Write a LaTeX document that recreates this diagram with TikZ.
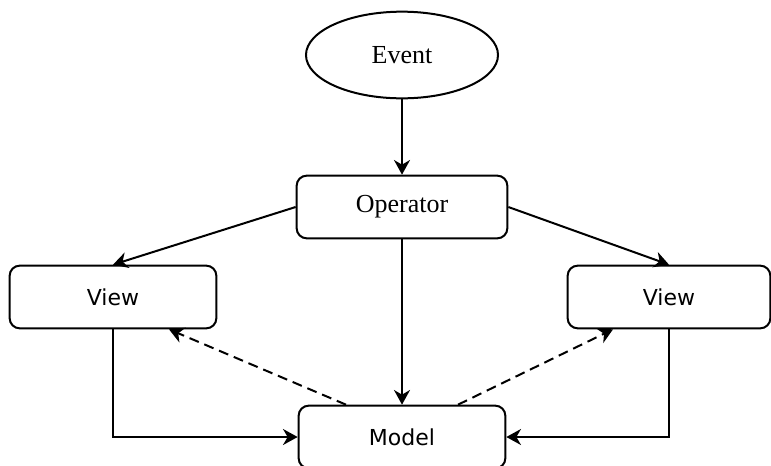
\documentclass[tikz,border=0pt]{standalone}
\usepackage{fontspec}
\setmainfont{Liberation Serif}
\newfontfamily\viewfont{DejaVu Sans}
\usetikzlibrary{arrows.meta,shapes.geometric}

\begin{document}
\begin{tikzpicture}[x=0.75pt,y=-0.75pt,
    line width=1.5pt,
    >={Stealth[length=11pt,width=12pt,inset=3.5pt]},
    box/.style={draw,rectangle,rounded corners=7.5pt,minimum width=155pt,minimum height=47pt,inner sep=0pt},
    serifbox/.style={box,font=\fontsize{19.5}{22}\selectfont},
    sansbox/.style={box,font=\viewfont\fontsize{16.5}{19}\selectfont},
    flow/.style={->},
    notify/.style={->,dash pattern=on 7.5pt off 4.5pt}]
  \useasboundingbox (0,0) rectangle (771,465);
  \clip (0,0) rectangle (771,465);

  \node[draw,ellipse,minimum width=144pt,minimum height=65pt,inner sep=0pt,
        font=\fontsize{19.5}{22}\selectfont] (event) at (402,55) {Event};
  \node[serifbox,minimum width=158pt] (oper) at (402,207) {Operator};
  \node[sansbox] (viewL) at (113,297) {View};
  \node[sansbox,minimum width=152pt] (viewR) at (669,297) {View};
  \node[sansbox] (model) at (402,437) {Model};

  \draw[flow] (event) -- (oper);
  \draw[flow] (oper.west) -- (viewL.north);
  \draw[flow] (oper.east) -- (viewR.north);
  \draw[flow] (oper) -- (model);
  \draw[flow] (viewL.south) |- (model.west);
  \draw[flow] (viewR.south) |- (model.east);

  % model notifies the views
  \draw[notify] (model.150) -- (viewL.-30);
  \draw[notify] (model.30) -- (viewR.-150);
\end{tikzpicture}
\end{document}
